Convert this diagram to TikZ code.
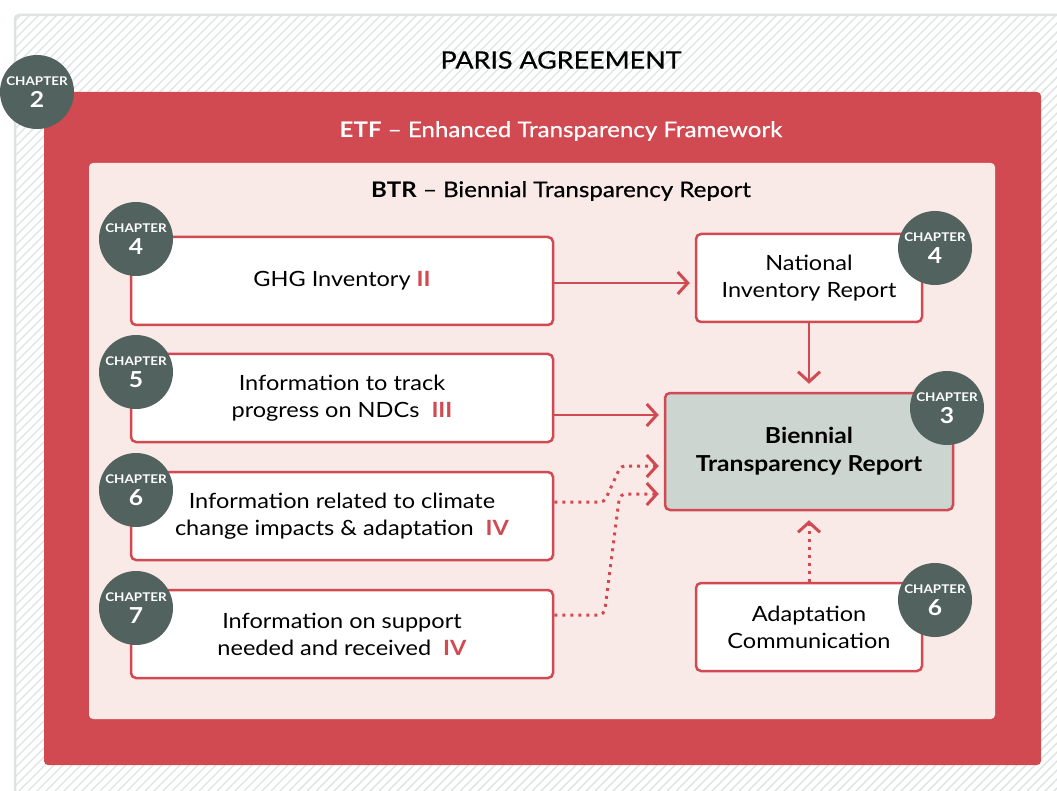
\documentclass[tikz,border=0pt]{standalone}
\usepackage{fontspec}
\setmainfont{Lato}[FakeStretch=1.12]
\newfontfamily\medfont{Lato}[FakeStretch=1.12,FakeBold=0.6]
\usetikzlibrary{arrows.meta,positioning}
\definecolor{etfred}{HTML}{D24A51}
\definecolor{btrpink}{HTML}{F9EAE7}
\definecolor{chapgray}{HTML}{52625F}
\definecolor{reportgray}{HTML}{CCD5D0}
\definecolor{hatchgray}{HTML}{DDE3E2}
\newcommand{\chaplabel}[1]{{\fontsize{12}{12}\selectfont\bfseries CHAPTER}\\[5pt]{\fontsize{22}{22}\selectfont\bfseries #1}}
\newcommand{\partno}[1]{\textcolor{etfred}{\bfseries #1}}

\begin{document}
\begin{tikzpicture}[x=1pt,y=-1pt,
  infobox/.style={draw=etfred,line width=2.5pt,fill=white,rounded corners=5pt,
    minimum width=422pt,minimum height=88pt,align=center,
    font=\fontsize{21}{27}\selectfont},
  sidebox/.style={infobox,minimum width=226pt},
  chap/.style={circle,fill=chapgray,text=white,minimum size=74pt,inner sep=0pt,
    align=center,font=\fontsize{12}{12}\selectfont},
  flow/.style={etfred,line width=2.5pt,shorten >=5pt,
    -{Straight Barb[length=10pt,width=22pt,line width=3pt]}},
  dots/.style={flow,dash pattern=on 3pt off 5pt,line width=3pt}]
\useasboundingbox (0,0) rectangle (1057,791);

% hatched Paris Agreement frame
\begin{scope}
\clip[rounded corners=4pt] (15,15) rectangle (1090,820);
\foreach \i in {-820,-811,...,1080}
  \draw[hatchgray,line width=1.4pt] (\i,820) -- ++(820,-820);
\end{scope}
\draw[hatchgray,line width=2.5pt,rounded corners=4pt] (15,15) rectangle (1090,820);
\node (paris) at (561,60) {\fontsize{24}{30}\selectfont\medfont PARIS AGREEMENT};

% ETF and BTR panels
\fill[etfred,rounded corners=4pt] (44,92) rectangle (1041,765);
\node[text=white] (etf) at (561,131)
    {\fontsize{21.5}{25}\selectfont\textbf{ETF} {\medfont – Enhanced Transparency Framework}};
\fill[btrpink,rounded corners=4pt] (89,163) rectangle (995,719);
\node (btrtitle) at (561,191)
    {\fontsize{21.5}{25}\selectfont\textbf{BTR} {\medfont – Biennial Transparency Report}};

% left column
\node[infobox] (ghg) at (342,281) {GHG Inventory \partno{II}};
\node[infobox] (ndc) at (342,398) {Information to track\\progress on NDCs\ \ \partno{III}};
\node[infobox] (impacts) at (342,516)
    {Information related to climate\\change impacts \& adaptation\ \ \partno{IV}};
\node[infobox] (support) at (342,634)
    {Information on support\\needed and received\ \ \partno{IV}};

% right column
\node[sidebox] (nir) at (809,278) {National\\Inventory Report};
\node[sidebox,fill=reportgray,minimum width=288pt,minimum height=117pt,
    font=\fontsize{22}{28}\selectfont\bfseries] (btr) at (809,451.5)
    {Biennial\\Transparency Report};
\node[sidebox] (adapt) at (809,627) {Adaptation\\Communication};

% chapters
\node[chap] (chap2) at (37,92) {\chaplabel{2}};
\node[chap] (chapghg) at (136,239) {\chaplabel{4}};
\node[chap] (chapndc) at (136,372) {\chaplabel{5}};
\node[chap] (chapimp) at (136,490) {\chaplabel{6}};
\node[chap] (chapsup) at (136,608) {\chaplabel{7}};
\node[chap] (chapnir) at (935,248) {\chaplabel{4}};
\node[chap] (chapbtr) at (947,408) {\chaplabel{3}};
\node[chap] (chapadp) at (935,600) {\chaplabel{6}};

% connectors
\draw[flow] ([yshift=-2pt]ghg.east) -- ([yshift=-2pt]ghg.east -| nir.west);
\draw[flow,shorten >=8pt] (nir.south) -- (btr.north);
\draw[flow] ([yshift=-17pt]ndc.east) -- ([yshift=-17pt]ndc.east -| btr.west);
\draw[dots,rounded corners=4pt] ([yshift=14pt]impacts.east) -- ++(50,0)
    -- ([xshift=-43pt,yshift=-14.5pt]btr.west) -- ([yshift=-14.5pt]btr.west);
\draw[dots,rounded corners=6pt] ([yshift=19pt]support.east) -- ++(50,0)
    -- ([xshift=-44pt,yshift=-42.5pt]btr.west) -- ([yshift=-42.5pt]btr.west);
\draw[dots,shorten >=9pt] (adapt.north) -- (btr.south);
\end{tikzpicture}
\end{document}
